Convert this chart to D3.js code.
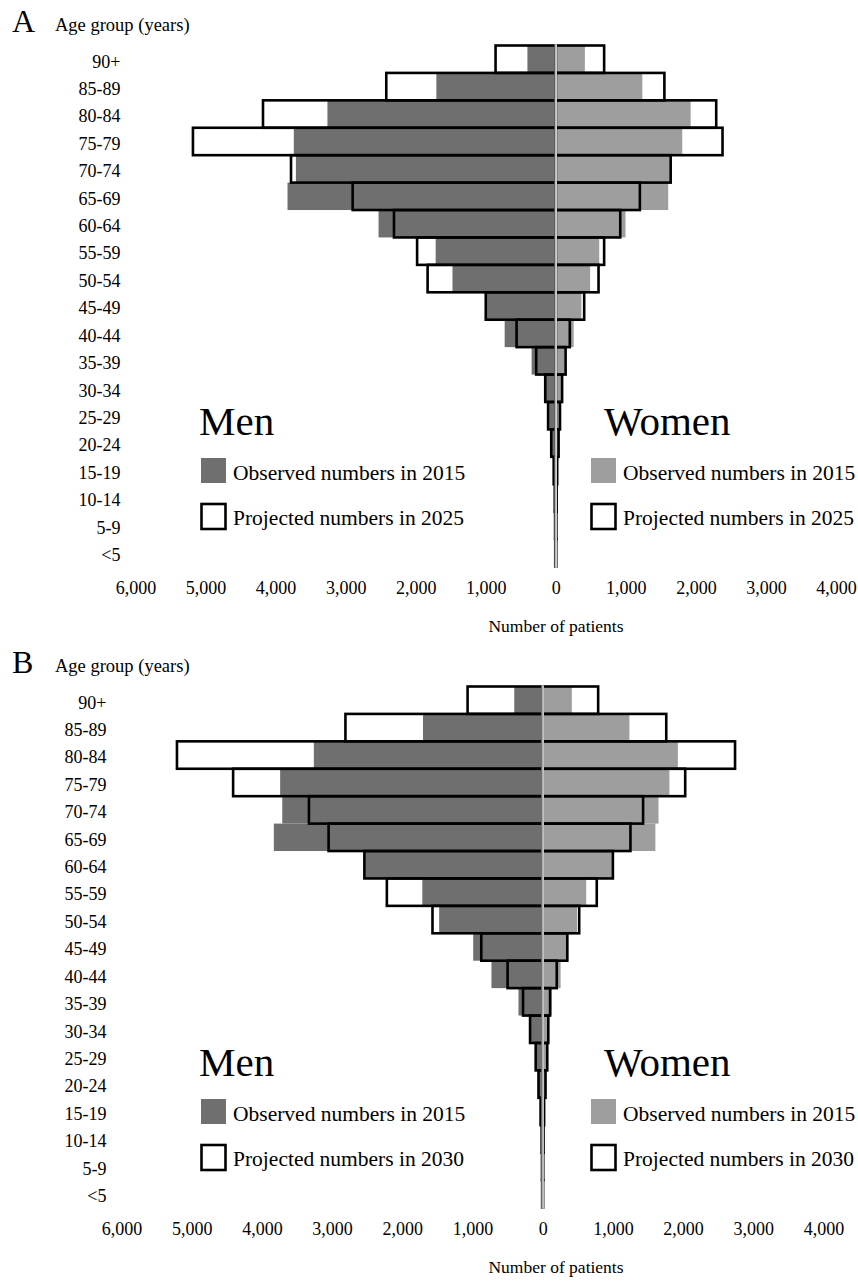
<!DOCTYPE html>
<html>
<head>
<meta charset="utf-8">
<script src="https://cdn.jsdelivr.net/npm/d3@7"></script>
<style>
  body { margin: 0; background: #fff; }
  svg { display: block; font-family: "Liberation Serif", "Times New Roman", serif; }
</style>
</head>
<body>
<div id="chart"></div>
<script>
// Age groups, top to bottom
const ageGroups = ["90+", "85-89", "80-84", "75-79", "70-74", "65-69", "60-64", "55-59", "50-54",
    "45-49", "40-44", "35-39", "30-34", "25-29", "20-24", "15-19", "10-14", "5-9", "<5"];

// Observed numbers in 2015
const men2015 = [405, 1705, 3260, 3740, 3710, 3830, 2530, 1715, 1475, 990, 730, 345, 170, 95, 55, 25, 12, 8, 5];
const women2015 = [415, 1235, 1925, 1805, 1650, 1605, 995, 620, 490, 365, 255, 130, 75, 55, 35, 20, 10, 8, 5];

// Projected numbers in 2025
const men2025 = [860, 2420, 4180, 5180, 3780, 2900, 2310, 1980, 1830, 1000, 560, 280, 150, 110, 65, 30, 15, 10, 8];
const women2025 = [690, 1550, 2290, 2380, 1640, 1200, 920, 690, 610, 405, 200, 140, 90, 60, 40, 20, 12, 8, 6];

// Projected numbers in 2030
const men2030 = [1070, 2810, 5210, 4410, 3330, 3050, 2540, 2220, 1570, 875, 500, 280, 180, 100, 60, 30, 15, 10, 8];
const women2030 = [790, 1760, 2740, 2030, 1430, 1250, 1000, 770, 520, 350, 200, 105, 80, 65, 40, 20, 12, 8, 6];

// Axis ticks (men negative, women positive)
const xTicks = [-6000, -5000, -4000, -3000, -2000, -1000, 0, 1000, 2000, 3000, 4000];

const width = 858, height = 1281;
const menColor = "#6f6f6f", womenColor = "#9e9e9e";

const svg = d3.select("#chart").append("svg")
    .attr("width", width)
    .attr("height", height);

const panels = [
    { letter: "A", year: 2025, men: men2025, women: women2025, top: 0, xRange: [135.5, 836] },
    { letter: "B", year: 2030, men: men2030, women: women2030, top: 641, xRange: [121.5, 823.5] }
];

const y = d3.scaleBand()
    .domain(ageGroups)
    .range([45.5, 566.5])
    .padding(0);

panels.forEach(p => {
    const g = svg.append("g").attr("transform", `translate(0,${p.top})`);

    const x = d3.scaleLinear().domain([-6000, 4000]).range(p.xRange);
    const x0 = x(0);

    // panel letter and y title
    g.append("text").attr("x", 12).attr("y", 31.5)
        .style("font-size", "32px").text(p.letter);
    g.append("text").attr("x", 55).attr("y", 31)
        .style("font-size", "18.5px").text("Age group (years)");

    // age labels
    g.selectAll(".age")
        .data(ageGroups)
        .join("text")
        .attr("class", "age")
        .attr("x", x(-6000) - 15)
        .attr("y", d => y(d) + y.bandwidth() / 2 + 2)
        .attr("dy", "0.35em")
        .attr("text-anchor", "end")
        .style("font-size", "18px")
        .text(d => d);

    // observed bars
    g.selectAll(".obs-men")
        .data(men2015)
        .join("rect")
        .attr("x", d => x(-d))
        .attr("y", (d, i) => y(ageGroups[i]))
        .attr("width", d => x0 - x(-d))
        .attr("height", y.bandwidth())
        .attr("fill", menColor);

    g.selectAll(".obs-women")
        .data(women2015)
        .join("rect")
        .attr("x", x0)
        .attr("y", (d, i) => y(ageGroups[i]))
        .attr("width", d => x(d) - x0)
        .attr("height", y.bandwidth())
        .attr("fill", womenColor);

    // projected outlines
    g.selectAll(".proj-men")
        .data(p.men)
        .join("rect")
        .attr("x", d => x(-d))
        .attr("y", (d, i) => y(ageGroups[i]))
        .attr("width", d => x0 - x(-d))
        .attr("height", y.bandwidth())
        .attr("fill", "none")
        .attr("stroke", "#000")
        .attr("stroke-width", 2.6);

    g.selectAll(".proj-women")
        .data(p.women)
        .join("rect")
        .attr("x", x0)
        .attr("y", (d, i) => y(ageGroups[i]))
        .attr("width", d => x(d) - x0)
        .attr("height", y.bandwidth())
        .attr("fill", "none")
        .attr("stroke", "#000")
        .attr("stroke-width", 2.6);

    // centre line
    const [yTop, yBot] = y.range();
    g.append("line")
        .attr("x1", x0).attr("x2", x0)
        .attr("y1", yTop - 1.3).attr("y2", yBot + 1.3)
        .attr("stroke", "#fff").attr("stroke-width", 2.2);
    g.append("line")
        .attr("x1", x0).attr("x2", x0)
        .attr("y1", yTop - 1.3).attr("y2", yBot + 1.3)
        .attr("stroke", "#9a9a9a").attr("stroke-width", 1);

    // x axis (labels only)
    const axis = g.append("g")
        .attr("transform", `translate(0,${yBot})`)
        .call(d3.axisBottom(x).tickValues(xTicks).tickSize(0).tickPadding(15)
            .tickFormat(d => d3.format(",")(Math.abs(d))));
    axis.select(".domain").remove();
    axis.selectAll("text")
        .style("font-family", "Liberation Serif, serif")
        .style("font-size", "18px")
        .attr("fill", "#000");

    g.append("text")
        .attr("x", 556)
        .attr("y", yBot + 65)
        .attr("text-anchor", "middle")
        .style("font-size", "17.5px")
        .text("Number of patients");

    // legends
    const legends = [
        { title: "Men", x: 200, fill: menColor },
        { title: "Women", x: 590, fill: womenColor }
    ];
    legends.forEach(l => {
        const lg = g.append("g");
        lg.append("text").attr("x", l.title === "Men" ? 199 : 604).attr("y", 435)
            .style("font-size", "41px").text(l.title);
        lg.append("rect").attr("x", l.x + 1).attr("y", 458)
            .attr("width", 25).attr("height", 25).attr("fill", l.fill);
        lg.append("text").attr("x", l.x + 33).attr("y", 480)
            .style("font-size", "21.5px").text("Observed numbers in 2015");
        lg.append("rect").attr("x", l.x + 1.5).attr("y", 504)
            .attr("width", 24).attr("height", 25)
            .attr("fill", "#fff").attr("stroke", "#000").attr("stroke-width", 2.6);
        lg.append("text").attr("x", l.x + 33).attr("y", 525)
            .style("font-size", "21.5px").text(`Projected numbers in ${p.year}`);
    });
});
</script>
</body>
</html>
